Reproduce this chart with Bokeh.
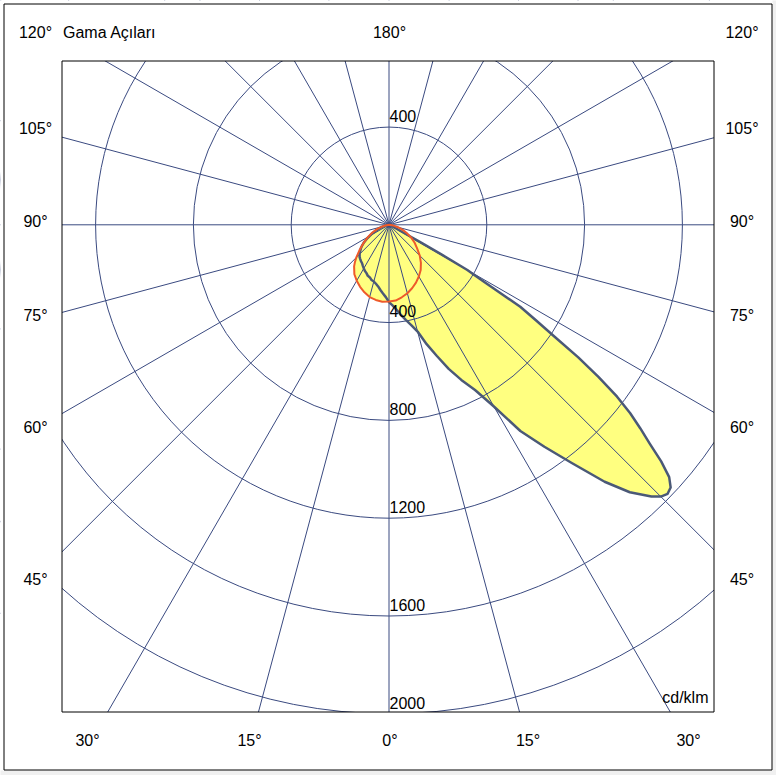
import numpy as np
from bokeh.plotting import figure
from bokeh.models import Range1d
from bokeh.embed import file_html
from bokeh.resources import INLINE
from bokeh.core.properties import value

# ---------------- data ----------------
ring_values = [400, 800, 1200, 1600, 2000]
ray_angles = list(range(0, 360, 15))
side_labels = ["120°", "105°", "90°", "75°", "60°", "45°"]
bottom_labels = ["30°", "15°", "0°", "15°", "30°"]
top_label = "180°"
title_label = "Gama Açıları"
unit_label = "cd/klm"

# C0 plane (right half, main lobe)
c0_gamma = [0, 2.5, 5, 7.5, 10, 12.5, 15, 17.5, 20, 22.5, 25, 27.5, 30, 32.5, 35, 37.5,
            40, 42, 44, 45, 46, 47, 48, 49, 50, 51, 52, 53, 54, 55, 56, 57, 58, 59,
            59.5, 60, 60.5, 61, 61.5, 62.5, 65, 70, 75, 80, 85, 90]
c0_int = [316, 330, 348, 372, 395, 420, 452, 512, 570, 638, 700, 762, 858, 1000, 1108, 1228,
          1372, 1472, 1545, 1572, 1584, 1575, 1542, 1475, 1392, 1322, 1252, 1168, 1060, 945,
          810, 715, 633, 460, 410, 370, 250, 140, 70, 35, 20, 12, 8, 5, 3, 0]

# C180 plane (left half)
c180_gamma = [0, 2.5, 5, 7.5, 10, 12.5, 15, 17.5, 20, 22.5, 25, 27.5, 30, 32.5, 35, 37.5,
              40, 42.5, 45, 47.5, 50, 52.5, 55, 57.5, 60, 62.5, 65, 70, 75, 80, 85, 90]
c180_int = [316, 296, 282, 269, 256, 247, 240, 237, 229, 226, 218, 213, 206, 199, 192, 188,
            183, 178, 170, 160, 150, 138, 125, 108, 92, 78, 64, 40, 24, 12, 5, 0]

# C90 plane (right half, small curve)
c90_gamma = [0, 5, 10, 15, 20, 25, 30, 35, 40, 45, 50, 55, 60, 65, 70, 75, 80, 85, 90]
c90_int = [314, 311, 301, 290, 276, 261, 244, 226, 203, 178, 150, 128, 105, 80, 58, 38, 20, 8, 0]

# C270 plane (left half, small curve)
c270_gamma = [0, 5, 10, 15, 20, 25, 30, 35, 40, 42.5, 45, 50, 55, 60, 65, 70, 75, 80, 85, 90]
c270_int = [314, 316, 312, 306, 294, 280, 264, 247, 222, 206, 189, 155, 125, 99, 75, 52, 30, 15, 6, 0]

# ---------------- geometry ----------------
W, H = 776, 775
CX, CY = 388.5, 224.3          # pole position in pixels
K = 400.0 / 97.8               # cd/klm per pixel


def X(px):
    return (px - CX) * K


def Y(py):
    return (CY - py) * K


GRID = "#3a4a80"
YELLOW = "#ffff80"
OUTLINE = "#4b5977"
RED = "#ee5a2a"
FONT = value("Liberation Sans")

p = figure(width=W, height=H, x_range=Range1d(X(0), X(W)), y_range=Range1d(Y(H), Y(0)),
           min_border=0, x_axis_type=None, y_axis_type=None, toolbar_location=None,
           output_backend="svg", outline_line_color=None,
           background_fill_color="white", border_fill_color="white")


def half(gammas, ints, sign):
    g = np.radians(np.asarray(gammas, dtype=float))
    r = np.asarray(ints, dtype=float)
    return sign * r * np.sin(g), -r * np.cos(g)


# main curve C180 (left) + C0 (right)
lx, ly = half(c180_gamma, c180_int, -1)
rx, ry = half(c0_gamma, c0_int, 1)
main_x = np.concatenate([lx[::-1], rx])
main_y = np.concatenate([ly[::-1], ry])

# small curve C270 (left) + C90 (right)
lx2, ly2 = half(c270_gamma, c270_int, -1)
rx2, ry2 = half(c90_gamma, c90_int, 1)
sec_x = np.concatenate([lx2[::-1], rx2])
sec_y = np.concatenate([ly2[::-1], ry2])

# fills
p.patch(sec_x, sec_y, fill_color=YELLOW, line_color=None)
p.patch(main_x, main_y, fill_color=YELLOW, line_color=None)

# grid: rays and rings
R = 4000
a = np.radians(ray_angles)
p.multi_line([[0, R * np.sin(t)] for t in a], [[0, -R * np.cos(t)] for t in a],
             line_color=GRID, line_width=1)
p.circle(x=[0] * len(ring_values), y=[0] * len(ring_values), radius=ring_values,
         fill_color=None, line_color=GRID, line_width=1)

# outlines
p.line(main_x, main_y, line_color=OUTLINE, line_width=2.5, line_join="round")
p.line(sec_x, sec_y, line_color=RED, line_width=2, line_join="round")

# mask outside the plot box (extends past the canvas edges)
BL, BR, BT, BB = 61.5, 713.5, 60.5, 711.5
E0, E1 = -60, 60
p.quad(left=[X(E0), X(BR), X(E0), X(E0)], right=[X(BL), X(W + E1), X(W + E1), X(W + E1)],
       top=[Y(E0), Y(E0), Y(E0), Y(BB)], bottom=[Y(H + E1), Y(H + E1), Y(BT), Y(H + E1)],
       fill_color="white", line_color=None)
# grey page area outside outer frame
p.quad(left=[X(772), X(E0)], right=[X(W + E1), X(W + E1)], top=[Y(E0), Y(770)],
       bottom=[Y(H + E1), Y(H + E1)], fill_color="#f0f0f0", line_color=None)
# outer frame and plot box
p.quad(left=[X(3.5), X(BL)], right=[X(771.5), X(BR)], top=[Y(3.5), Y(BT)],
       bottom=[Y(769.5), Y(BB)], fill_color=None, line_color="black", line_width=1)

# ---------------- texts ----------------
side_y = [31.5, 128, 221.3, 315.3, 427, 578.7]
p.text(x=[X(35)] * len(side_labels), y=[Y(v) for v in side_y], text=side_labels,
       text_font=FONT, text_font_size="16px", text_align="center", text_baseline="middle",
       text_color="black")
p.text(x=[X(741.5)] * len(side_labels), y=[Y(v) for v in side_y], text=side_labels,
       text_font=FONT, text_font_size="16px", text_align="center", text_baseline="middle",
       text_color="black")
p.text(x=[X(62.5)], y=[Y(31.5)], text=[title_label], text_font=FONT, text_font_size="16px",
       text_align="left", text_baseline="middle", text_color="black")
p.text(x=[X(389)], y=[Y(31.5)], text=[top_label], text_font=FONT, text_font_size="16px",
       text_align="center", text_baseline="middle", text_color="black")
bottom_x = [87, 249, 389.5, 527.5, 688]
p.text(x=[X(v) for v in bottom_x], y=[Y(739.5)] * len(bottom_labels), text=bottom_labels,
       text_font=FONT, text_font_size="16px", text_align="center", text_baseline="middle",
       text_color="black")

# ring labels (bottom side of every ring, plus top of the first ring)
lab_x = [0.5 * K] * len(ring_values) + [0.5 * K]
lab_y = [-r + 11.3 * K for r in ring_values] + [ring_values[0] + 10.8 * K]
lab_t = [str(r) for r in ring_values] + [str(ring_values[0])]
p.text(x=lab_x, y=lab_y, text=lab_t, text_font=FONT, text_font_size="16px",
       text_align="left", text_baseline="middle", text_color="black")
p.text(x=[X(708)], y=[Y(697)], text=[unit_label], text_font=FONT, text_font_size="16px",
       text_align="right", text_baseline="middle", text_color="black")

open("out.html", "w").write(file_html(p, INLINE))
